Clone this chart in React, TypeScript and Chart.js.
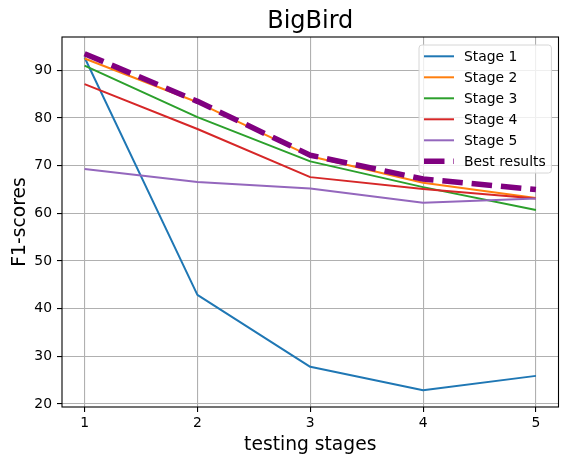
import { useEffect, useRef } from "react";
import { Chart, registerables } from "chart.js";

Chart.register(...registerables);

const stages = [1, 2, 3, 4, 5];
const yTicks = [20, 30, 40, 50, 60, 70, 80, 90];

const stage1 = [92.7, 42.9, 27.8, 22.9, 25.9];
const stage2 = [92.5, 83.3, 72.0, 66.4, 63.2];
const stage3 = [91.0, 80.2, 70.9, 65.5, 60.7];
const stage4 = [87.1, 77.7, 67.6, 65.1, 63.1];
const stage5 = [69.3, 66.6, 65.2, 62.2, 63.1];
const bestResults = [93.5, 83.5, 72.2, 67.2, 65.0];

const seriesNames = ["Stage 1", "Stage 2", "Stage 3", "Stage 4", "Stage 5", "Best results"];
const seriesColors = ["#1f77b4", "#ff7f0e", "#2ca02c", "#d62728", "#9467bd", "#800080"];

const FONT = "'DejaVu Sans', sans-serif";

// title + frame + legend drawn by hand, matplotlib style
const decorPlugin = {
  id: "decor",
  afterDraw(chart: any) {
    const { ctx, chartArea } = chart;
    const { left, right, top, bottom } = chartArea;

    ctx.save();
    // frame
    ctx.strokeStyle = "#000";
    ctx.lineWidth = 1.1;
    ctx.strokeRect(left, top, right - left, bottom - top);

    // title
    ctx.fillStyle = "#000";
    ctx.font = `24px ${FONT}`;
    ctx.textAlign = "center";
    ctx.textBaseline = "alphabetic";
    ctx.fillText("BigBird", (left + right) / 2, 28);

    // legend
    const bx = right - 139.5;
    const by = top + 8;
    const bw = 132.4;
    const bh = 128;
    ctx.beginPath();
    ctx.roundRect(bx, by, bw, bh, 3);
    ctx.fillStyle = "rgba(255,255,255,0.8)";
    ctx.fill();
    ctx.strokeStyle = "#d6d6d6";
    ctx.lineWidth = 1;
    ctx.stroke();

    ctx.font = `13.9px ${FONT}`;
    ctx.textAlign = "left";
    ctx.textBaseline = "middle";
    chart.data.datasets.forEach((ds: any, i: number) => {
      const y = by + 11.3 + i * 21;
      ctx.beginPath();
      ctx.strokeStyle = ds.borderColor;
      ctx.lineWidth = ds.borderWidth;
      ctx.setLineDash(ds.borderDash || []);
      ctx.lineCap = "butt";
      ctx.moveTo(bx + 5, y);
      ctx.lineTo(bx + 35, y);
      ctx.stroke();
      ctx.setLineDash([]);
      ctx.fillStyle = "#000";
      ctx.fillText(ds.label, bx + 45, y + 1);
    });
    ctx.restore();
  }
};

export default function App() {
  const chartRef = useRef<HTMLCanvasElement | null>(null);
  const chartInstance = useRef<Chart | null>(null);

  useEffect(() => {
    document.body.style.margin = "0";
    if (!chartRef.current) return;
    if (chartInstance.current) {
      chartInstance.current.destroy();
    }

    const allSeries = [stage1, stage2, stage3, stage4, stage5, bestResults];
    const datasets = allSeries.map((values, i) => {
      const isBest = i === allSeries.length - 1;
      return {
        label: seriesNames[i],
        data: values.map((v, j) => ({ x: stages[j], y: v })),
        borderColor: seriesColors[i],
        backgroundColor: seriesColors[i],
        borderWidth: isBest ? 5.5 : 2,
        borderDash: isBest ? [20.5, 8.9] : undefined,
        borderCapStyle: "butt" as const,
        borderJoinStyle: "round" as const,
        pointRadius: 0,
        tension: 0,
        // later series on top, like matplotlib
        order: allSeries.length - i
      };
    });

    chartInstance.current = new Chart(chartRef.current, {
      type: "line",
      data: { datasets },
      options: {
        animation: false,
        responsive: false,
        layout: { padding: { top: 37, right: 8.5, left: 0, bottom: 0 } },
        plugins: {
          legend: { display: false },
          tooltip: { enabled: false }
        },
        scales: {
          x: {
            type: "linear",
            min: 0.8,
            max: 5.2,
            afterBuildTicks: (scale: any) => {
              scale.ticks = stages.map((v) => ({ value: v }));
            },
            afterFit: (scale: any) => {
              scale.height = 58;
            },
            grid: {
              color: "#b0b0b0",
              lineWidth: 1.1,
              tickColor: "#000",
              tickLength: 5,
              tickWidth: 1.1
            },
            border: { display: false },
            ticks: {
              color: "#000",
              padding: 3,
              font: { family: FONT, size: 13.9 },
              maxRotation: 0
            },
            title: {
              display: true,
              text: "testing stages",
              color: "#000",
              font: { family: FONT, size: 18.7 },
              padding: { top: 0, bottom: 9 }
            }
          },
          y: {
            type: "linear",
            min: 19.37,
            max: 97.0,
            afterBuildTicks: (scale: any) => {
              scale.ticks = yTicks.map((v) => ({ value: v }));
            },
            afterFit: (scale: any) => {
              scale.width = 62;
            },
            grid: {
              color: "#b0b0b0",
              lineWidth: 1.1,
              tickColor: "#000",
              tickLength: 5,
              tickWidth: 1.1
            },
            border: { display: false },
            ticks: {
              color: "#000",
              padding: 5,
              font: { family: FONT, size: 13.9 }
            },
            title: {
              display: true,
              text: "F1-scores",
              color: "#000",
              font: { family: FONT, size: 18.7 },
              padding: { top: 9, bottom: 0 }
            }
          }
        }
      },
      plugins: [decorPlugin]
    });

    return () => {
      if (chartInstance.current) {
        chartInstance.current.destroy();
        chartInstance.current = null;
      }
    };
  }, []);

  return (
    <div style={{ width: 567, height: 465, background: "#fff" }}>
      <canvas ref={chartRef} width={567} height={465}></canvas>
    </div>
  );
}
